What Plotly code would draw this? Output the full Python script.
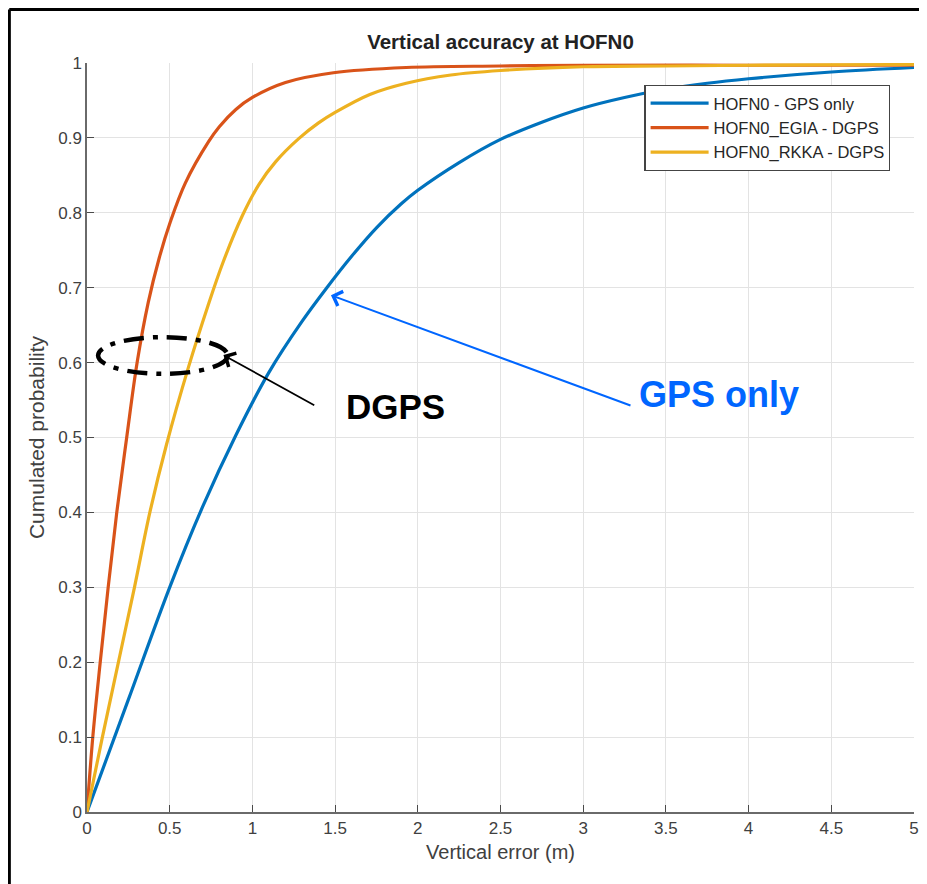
import plotly.graph_objects as go

# ---- data ----
gps_x = [0, 0.25, 0.5, 0.7, 0.9, 1.1, 1.3, 1.45, 1.6, 1.75, 1.9, 2.0, 2.25, 2.5, 2.75, 3.0, 3.25, 3.5, 3.75, 4.0, 4.5, 5.0]
gps_y = [0, 0.15, 0.3, 0.408, 0.503, 0.587, 0.655, 0.70, 0.742, 0.78, 0.812, 0.83, 0.867, 0.898, 0.921, 0.94, 0.954, 0.965, 0.973, 0.979, 0.988, 0.994]

egia_x = [0, 0.035, 0.08, 0.128, 0.18, 0.24, 0.303, 0.37, 0.437, 0.504, 0.595, 0.735, 0.8, 0.9, 1.0, 1.2, 1.49, 1.93, 2.5, 3.0, 4.0, 5.0]
egia_y = [0, 0.1, 0.2, 0.3, 0.4, 0.5, 0.6, 0.68, 0.74, 0.788, 0.84, 0.895, 0.915, 0.938, 0.954, 0.974, 0.987, 0.994, 0.996, 0.997, 0.997, 0.997]

rkka_x = [0, 0.093, 0.19, 0.287, 0.38, 0.48, 0.615, 0.73, 0.821, 0.939, 1.04, 1.14, 1.28, 1.40, 1.5, 1.71, 1.93, 2.2, 2.5, 3.0, 3.5, 4.0, 5.0]
rkka_y = [0, 0.1, 0.2, 0.3, 0.4, 0.49, 0.595, 0.675, 0.733, 0.796, 0.838, 0.868, 0.899, 0.92, 0.934, 0.958, 0.973, 0.984, 0.99, 0.995, 0.996, 0.997, 0.998]

series_names = ["HOFN0 - GPS only", "HOFN0_EGIA - DGPS", "HOFN0_RKKA - DGPS"]
series_colors = ["#0072BD", "#D95319", "#EDB120"]

x_tickvals = [0, 0.5, 1, 1.5, 2, 2.5, 3, 3.5, 4, 4.5, 5]
x_ticktext = ["0", "0.5", "1", "1.5", "2", "2.5", "3", "3.5", "4", "4.5", "5"]
y_tickvals = [0, 0.1, 0.2, 0.3, 0.4, 0.5, 0.6, 0.7, 0.8, 0.9, 1]
y_ticktext = ["0", "0.1", "0.2", "0.3", "0.4", "0.5", "0.6", "0.7", "0.8", "0.9", "1"]

FONT = "Liberation Sans, Arial, sans-serif"

fig = go.Figure()
for xs, ys, name, col in zip([gps_x, egia_x, rkka_x], [gps_y, egia_y, rkka_y], series_names, series_colors):
    fig.add_trace(go.Scatter(x=xs, y=ys, mode="lines", name=name,
                             line=dict(color=col, width=3.2, shape="spline", smoothing=1.0)))

axis_common = dict(showgrid=True, gridcolor="#e3e3e3", gridwidth=1, zeroline=False,
                   showline=True, linecolor="#6a6a6a", linewidth=1.5,
                   ticks="inside", ticklen=7, tickcolor="#4a4a4a", tickwidth=1,
                   tickfont=dict(family=FONT, size=17, color="#404040"))

fig.update_xaxes(range=[0, 5], tickvals=x_tickvals, ticktext=x_ticktext,
                 title=dict(text="Vertical error (m)", font=dict(family=FONT, size=20, color="#404040"), standoff=8),
                 **axis_common)
fig.update_yaxes(range=[0, 1], tickvals=y_tickvals, ticktext=y_ticktext,
                 title=dict(text="Cumulated probability", font=dict(family=FONT, size=21, color="#404040"), standoff=8),
                 **axis_common)

# DGPS ellipse highlight
fig.add_shape(type="circle", xref="x", yref="y", x0=0.067, x1=0.85, y0=0.585, y1=0.634,
              line=dict(color="black", width=4.5, dash="20px,9px,5px,9px"))

# black arrow to ellipse
fig.add_annotation(x=0.825, y=0.610, ax=1.383, ay=0.542, xref="x", yref="y", axref="x", ayref="y",
                   text="", showarrow=True, arrowhead=4, arrowsize=1.7, arrowwidth=1.8, arrowcolor="black")
fig.add_annotation(x=1.863, y=0.542, xref="x", yref="y", text="<b>DGPS</b>", showarrow=False,
                   font=dict(family=FONT, size=35, color="black"))

# blue arrow to GPS curve
fig.add_annotation(x=1.475, y=0.690, ax=3.295, ay=0.542, xref="x", yref="y", axref="x", ayref="y",
                   text="", showarrow=True, arrowhead=4, arrowsize=1.5, arrowwidth=2, arrowcolor="#0066ff")
fig.add_annotation(x=3.823, y=0.557, xref="x", yref="y", text="<b>GPS only</b>", showarrow=False,
                   font=dict(family=FONT, size=36, color="#0066ff"))

# outer frame (left and top)
fig.add_shape(type="line", xref="paper", yref="paper", x0=-0.094, x1=-0.094, y0=-0.2, y1=1.0714,
              line=dict(color="black", width=3.2))
fig.add_shape(type="line", xref="paper", yref="paper", x0=-0.094, x1=1.2, y0=1.0714, y1=1.0714,
              line=dict(color="black", width=3.2))

fig.update_layout(
    width=919, height=876,
    margin=dict(l=79, r=8, t=55, b=72),
    paper_bgcolor="white", plot_bgcolor="white",
    title=dict(text="<b>Vertical accuracy at HOFN0</b>", x=0.5, xref="paper", xanchor="center",
               y=1 - 34 / 876, yref="container", yanchor="middle",
               font=dict(family=FONT, size=20.5, color="#222222")),
    legend=dict(x=0.674, y=0.971, xanchor="left", yanchor="top",
                bgcolor="white", bordercolor="#444444", borderwidth=1.2,
                font=dict(family=FONT, size=16.5, color="#262626"),
                itemwidth=58, tracegroupgap=0),
    showlegend=True,
)

fig.write_html("out.html")
